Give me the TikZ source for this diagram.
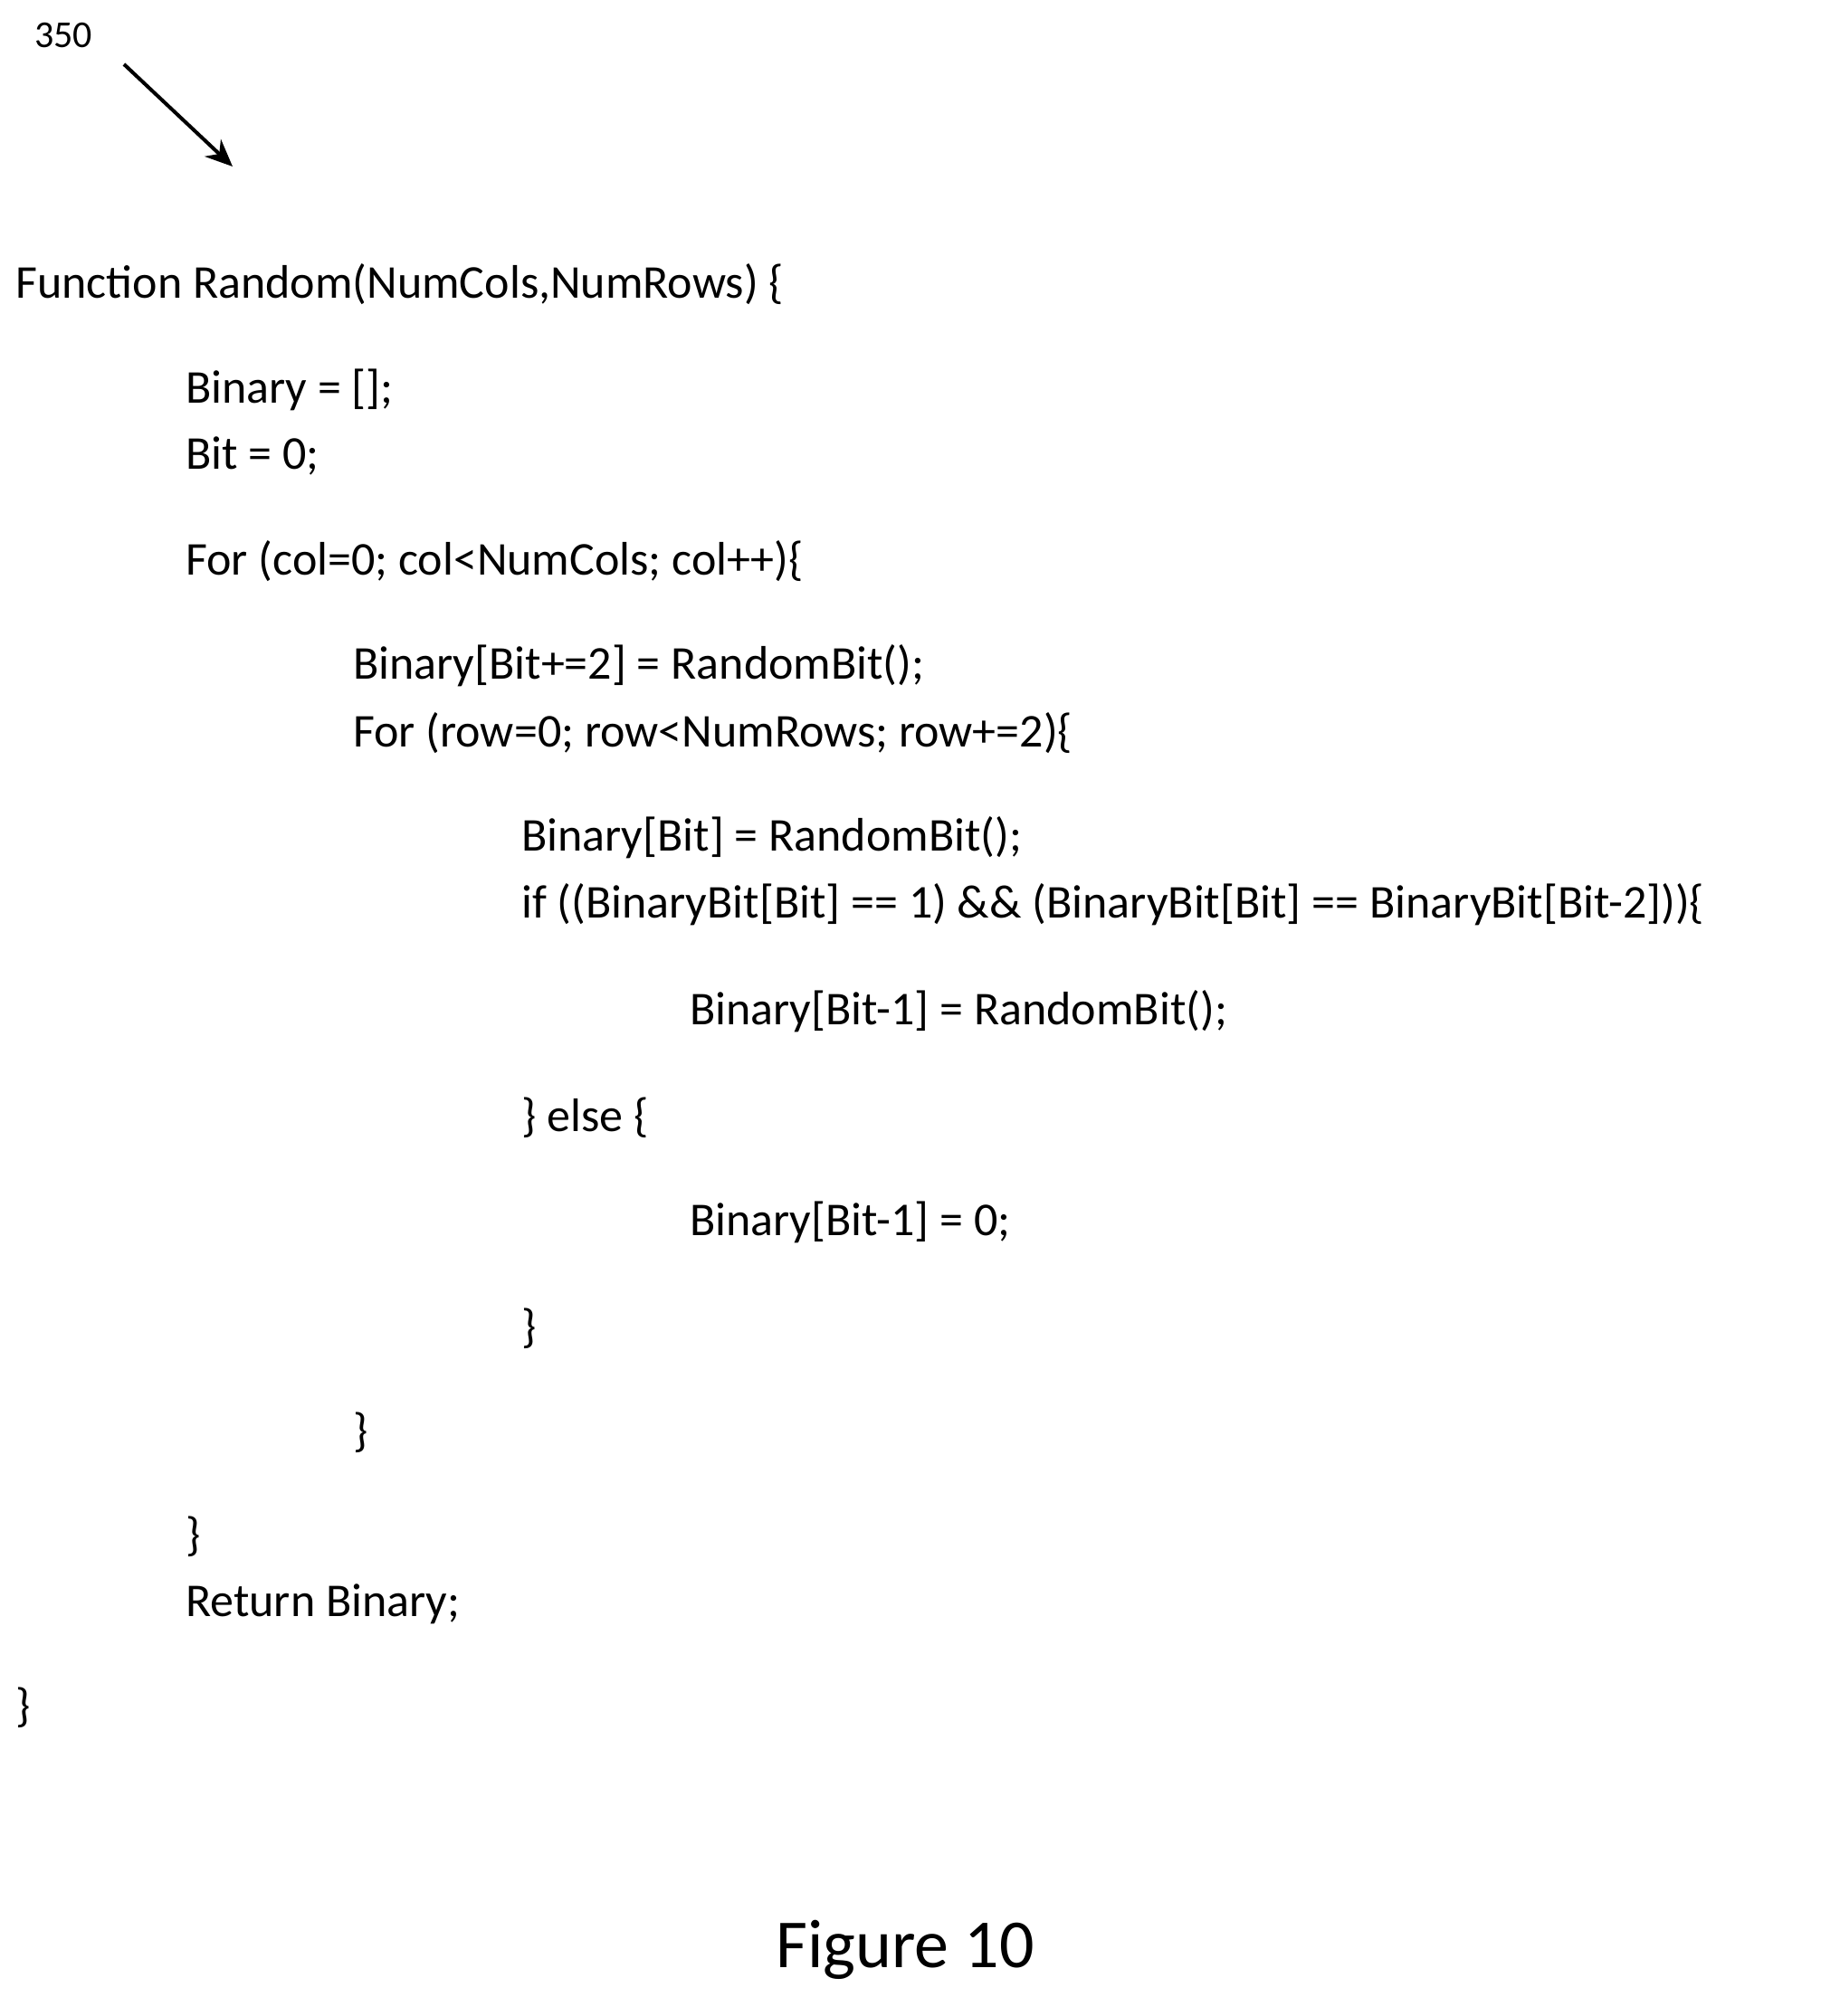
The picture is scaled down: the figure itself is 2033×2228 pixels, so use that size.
\documentclass[tikz,border=0pt]{standalone}
\usetikzlibrary{arrows.meta}
\usepackage{fontspec}
\setmainfont{Carlito}
\begin{document}
\begin{tikzpicture}[x=1pt,y=-1pt,
  code/.style={anchor=base west,inner sep=0pt,font=\fontsize{52}{60}\selectfont}]
\useasboundingbox (0,0) rectangle (2033,2228);
\node[anchor=base west,inner sep=0pt,font=\fontsize{42}{50}\selectfont] (lbl) at (38,52) {350};
\coordinate (a1) at (137,71);
\coordinate (a2) at (257,184);
\draw[line width=4pt,-{Stealth[length=30pt,width=26pt]}] (a1) -- (a2);
\node[code] (l1) at (17,329) {Function Random(NumCols,NumRows) \{};
\node[code] (l2) at (205,445) {Binary = [];};
\node[code] (l3) at (205,518) {Bit = 0;};
\node[code] (l4) at (205,635) {For (col=0; col<NumCols; col++)\{};
\node[code] (l5) at (390,750) {Binary[Bit+=2] = RandomBit();};
\node[code] (l6) at (390,825) {For (row=0; row<NumRows; row+=2)\{};
\node[code] (l7) at (576,940) {Binary[Bit] = RandomBit();};
\node[code] (l8) at (576,1014) {if ((BinaryBit[Bit] == 1) \&\& (BinaryBit[Bit] == BinaryBit[Bit-2]))\{};
\node[code] (l9) at (762,1132) {Binary[Bit-1] = RandomBit();};
\node[code] (l10) at (576,1250) {\} else \{};
\node[code] (l11) at (762,1365) {Binary[Bit-1] = 0;};
\node[code] (l12) at (576,1483) {\}};
\node[code] (l13) at (390,1598) {\}};
\node[code] (l14) at (205,1713) {\}};
\node[code] (l15) at (205,1786) {Return Binary;};
\node[code] (l16) at (17,1902) {\}};
\node[anchor=base,inner sep=0pt,font=\fontsize{76}{90}\selectfont] (fig) at (1000,2174) {Figure 10};
\end{tikzpicture}
\end{document}
